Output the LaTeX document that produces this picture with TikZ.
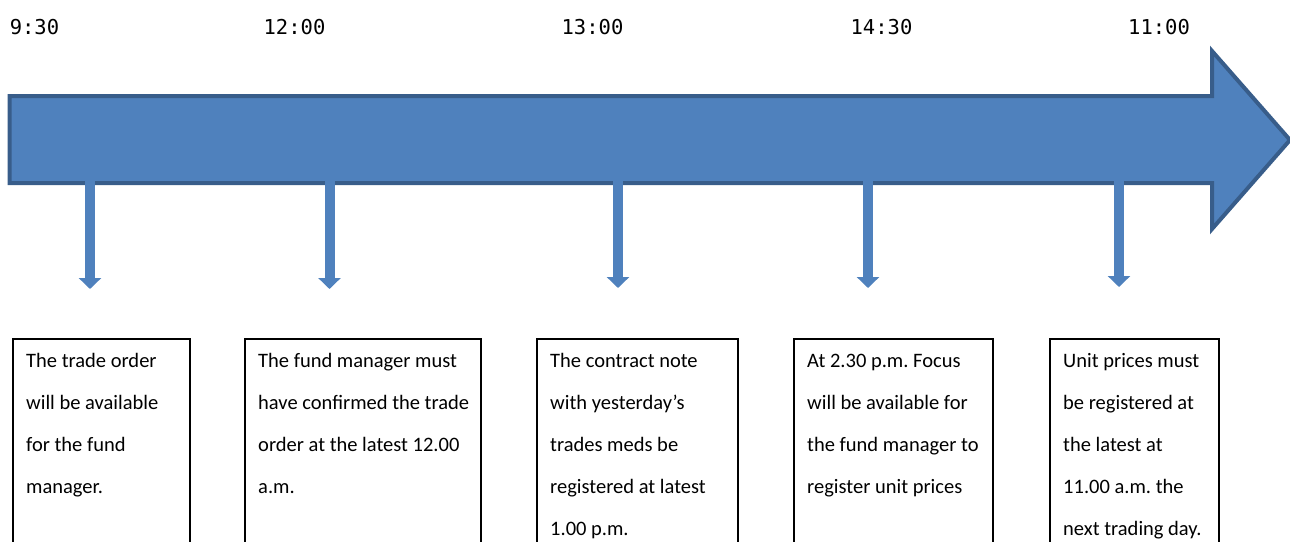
\documentclass[tikz,border=0pt]{standalone}
\usepackage{fontspec}
\setmainfont{Carlito}
\newfontfamily\timefont{DejaVu Sans Mono}
\usetikzlibrary{arrows.meta}
\definecolor{fillblue}{RGB}{79,129,189}
\definecolor{edgeblue}{RGB}{56,93,138}
\frenchspacing

\begin{document}
\begin{tikzpicture}[x=1pt,y=-1pt,
	timestamp/.style={anchor=base,inner sep=0pt,font=\timefont\fontsize{20.5}{24}\selectfont},
	notebox/.style={draw,line width=2pt,anchor=north west,minimum height=260pt,inner sep=0pt},
	notetext/.style={anchor=north west,align=left,inner xsep=14pt,inner ysep=0pt,font=\fontsize{20.5}{42}\selectfont},
	tick/.style={fillblue,line width=10pt,-{Triangle[width=22pt,length=11pt]}}]
	\useasboundingbox (0,0) rectangle (1290,541);
	\clip (0,0) rectangle (1290,541);
	\filldraw [fill=fillblue,draw=edgeblue,line width=4pt,line join=miter]
		(9.5,96) -- (1212,96) -- (1212,51) -- (1290,140) -- (1212,229) -- (1212,183) -- (9.5,183) -- cycle;
	\coordinate (S1) at (90,181);     \coordinate (E1) at (90,289);
	\coordinate (S2) at (329.5,181);  \coordinate (E2) at (329.5,289);
	\coordinate (S3) at (618,181);    \coordinate (E3) at (618,288);
	\coordinate (S4) at (868,181);    \coordinate (E4) at (868,288);
	\coordinate (S5) at (1119,181);   \coordinate (E5) at (1119,287);
	\draw [tick] (S1) -- (E1);
	\draw [tick] (S2) -- (E2);
	\draw [tick] (S3) -- (E3);
	\draw [tick] (S4) -- (E4);
	\draw [tick] (S5) -- (E5);
	\node [timestamp] (T1) at (34.5,34) {9:30};
	\node [timestamp] (T2) at (294.5,34) {12:00};
	\node [timestamp] (T3) at (592.5,34) {13:00};
	\node [timestamp] (T4) at (881.5,34) {14:30};
	\node [timestamp] (T5) at (1159,34) {11:00};
	\node [notebox,minimum width=177pt] (B1) at (12,338) {};
	\node [notebox,minimum width=236pt] (B2) at (244,338) {};
	\node [notebox,minimum width=201pt] (B3) at (536,338) {};
	\node [notebox,minimum width=199pt] (B4) at (793,338) {};
	\node [notebox,minimum width=169pt] (B5) at (1049,338) {};
	\node [notetext] (N1) at (B1.north west) {\strut The trade order\\will be available\\for the fund\\manager.};
	\node [notetext] (N2) at (B2.north west) {\strut The fund manager must\\have confirmed the trade\\order at the latest 12.00\\a.m.};
	\node [notetext] (N3) at (B3.north west) {\strut The contract note\\with yesterday’s\\trades meds be\\registered at latest\\1.00 p.m.};
	\node [notetext] (N4) at (B4.north west) {\strut At 2.30 p.m. Focus\\will be available for\\the fund manager to\\register unit prices};
	\node [notetext] (N5) at (B5.north west) {\strut Unit prices must\\be registered at\\the latest at\\11.00 a.m. the\\next trading day.};
\end{tikzpicture}
\end{document}
